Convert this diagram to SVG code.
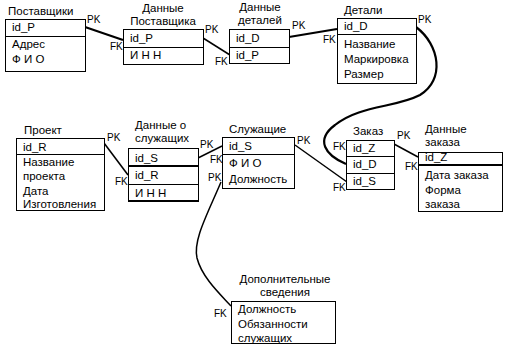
<svg xmlns="http://www.w3.org/2000/svg" width="505" height="348" viewBox="0 0 505 348">
<style>
text{font-family:"Liberation Sans",Arial,sans-serif;font-size:11.5px;fill:#000}
.k{font-size:10px}
.b{fill:#fff;stroke:#000;stroke-width:1}
.d{stroke:#000;stroke-width:1}
.t{stroke:#000;stroke-width:2}
.c{fill:none;stroke:#000;stroke-width:1.5}
.ct{fill:none;stroke:#000;stroke-width:2.2}
</style>
<rect width="505" height="348" fill="#fff"/>
<g id="connectors">
<path class="ct" d="M85,27 L123,40"/>
<path class="c" d="M203,38 L230,55"/>
<path class="ct" d="M289,37 L337,29"/>
<path class="ct" d="M416,27 C440,45 445,80 420,95 C395,108 360,105 335,125 C315,140 325,155 346,164"/>
<path class="c" d="M104,143 L128,175"/>
<path class="c" d="M198,158 L222,146"/>
<path class="c" d="M295,145 L347,182"/>
<path class="c" d="M394,144 L418,157"/>
<path class="c" d="M221,182 C207,215 193,240 197,258 C202,278 222,296 231,306"/>
<text class="k" x="87" y="23">PK</text>
<text class="k" x="110" y="50">FK</text>
<text class="k" x="205" y="33">PK</text>
<text class="k" x="215" y="65">FK</text>
<text class="k" x="292" y="29">PK</text>
<text class="k" x="323" y="43">FK</text>
<text class="k" x="418" y="23">PK</text>
<text class="k" x="107" y="141">PK</text>
<text class="k" x="115" y="185">FK</text>
<text class="k" x="200" y="148">PK</text>
<text class="k" x="210" y="163">FK</text>
<text class="k" x="208" y="181">PK</text>
<text class="k" x="297" y="144">PK</text>
<text class="k" x="333" y="150">FK</text>
<text class="k" x="333" y="191">FK</text>
<text class="k" x="397" y="139">PK</text>
<text class="k" x="405" y="170">FK</text>
<text class="k" x="214" y="317">FK</text>
</g>
<g id="postavshchiki">
<text x="8" y="15">Поставщики</text>
<rect class="b" x="5.5" y="19.5" width="80" height="52"/>
<line class="d" x1="5.5" y1="36.5" x2="85.5" y2="36.5"/>
<text x="12" y="31">id_P</text>
<text x="12" y="48">Адрес</text>
<text x="12" y="63">Ф И О</text>
</g>
<g id="dannye-postavshchika">
<text x="163" y="12" text-anchor="middle">Данные</text>
<text x="163" y="25" text-anchor="middle">Поставщика</text>
<rect class="b" x="123.5" y="29.5" width="80" height="35"/>
<line class="d" x1="123.5" y1="47.5" x2="203.5" y2="47.5"/>
<text x="130" y="42">id_P</text>
<text x="130" y="59">И Н Н</text>
</g>
<g id="dannye-detalei">
<text x="260" y="11" text-anchor="middle">Данные</text>
<text x="260" y="24" text-anchor="middle">деталей</text>
<rect class="b" x="229.5" y="29.5" width="60" height="34"/>
<line class="d" x1="229.5" y1="47.5" x2="289.5" y2="47.5"/>
<text x="236" y="42">id_D</text>
<text x="236" y="59">id_P</text>
</g>
<g id="detali">
<text x="344" y="14">Детали</text>
<rect class="b" x="337.5" y="18.5" width="79" height="65"/>
<line class="d" x1="337.5" y1="34.5" x2="416.5" y2="34.5"/>
<text x="344" y="30">id_D</text>
<text x="344" y="48">Название</text>
<text x="344" y="63">Маркировка</text>
<text x="344" y="78">Размер</text>
</g>
<g id="proekt">
<text x="24" y="134">Проект</text>
<rect class="b" x="16.5" y="138.5" width="88" height="72"/>
<line class="d" x1="16.5" y1="154.5" x2="104.5" y2="154.5"/>
<text x="23" y="151">id_R</text>
<text x="23" y="166">Название</text>
<text x="23" y="180">проекта</text>
<text x="23" y="195">Дата</text>
<text x="23" y="208">Изготовления</text>
</g>
<g id="dannye-o-sluzhashchikh">
<text x="135" y="129">Данные о</text>
<text x="135" y="142">служащих</text>
<rect class="b" x="128.5" y="148.5" width="70" height="53"/>
<line class="t" x1="128.5" y1="166" x2="198.5" y2="166"/>
<line class="d" x1="128.5" y1="184.5" x2="198.5" y2="184.5"/>
<line class="t" x1="128.5" y1="201" x2="198.5" y2="201"/>
<text x="135" y="162">id_S</text>
<text x="135" y="179">id_R</text>
<text x="135" y="197">И Н Н</text>
</g>
<g id="sluzhashchie">
<text x="229" y="133">Служащие</text>
<rect class="b" x="222.5" y="137.5" width="72" height="51"/>
<line class="d" x1="222.5" y1="154.5" x2="294.5" y2="154.5"/>
<text x="229" y="150">id_S</text>
<text x="229" y="167">Ф И О</text>
<text x="229" y="183">Должность</text>
</g>
<g id="zakaz">
<text x="353" y="135">Заказ</text>
<rect class="b" x="346.5" y="140.5" width="48" height="49"/>
<line class="d" x1="346.5" y1="156.5" x2="394.5" y2="156.5"/>
<line class="d" x1="346.5" y1="173.5" x2="394.5" y2="173.5"/>
<text x="353" y="152">id_Z</text>
<text x="353" y="168">id_D</text>
<text x="353" y="185">id_S</text>
</g>
<g id="dannye-zakaza">
<text x="425" y="133">Данные</text>
<text x="425" y="146">заказа</text>
<rect class="b" x="418.5" y="152.5" width="84" height="59"/>
<line class="t" x1="418.5" y1="165" x2="502.5" y2="165"/>
<text x="425" y="161">id_Z</text>
<text x="425" y="179">Дата заказа</text>
<text x="425" y="194">Форма</text>
<text x="425" y="208">заказа</text>
</g>
<g id="dopolnitelnye-svedeniya">
<text x="285" y="283" text-anchor="middle">Дополнительные</text>
<text x="285" y="296" text-anchor="middle">сведения</text>
<rect class="b" x="231.5" y="301.5" width="104" height="42"/>
<text x="238" y="313">Должность</text>
<text x="238" y="328">Обязанности</text>
<text x="238" y="342">служащих</text>
</g>
</svg>
